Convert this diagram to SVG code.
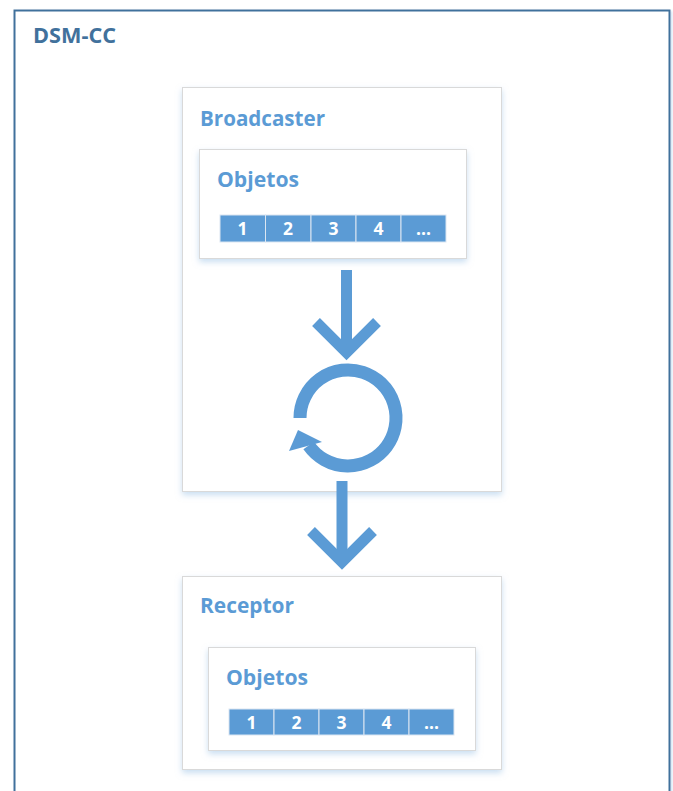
<svg xmlns="http://www.w3.org/2000/svg" width="673" height="791" viewBox="0 0 673 791">
  <defs>
    <filter id="shadow" x="-10%" y="-10%" width="120%" height="130%">
      <feDropShadow dx="0" dy="3" stdDeviation="3" flood-color="#9dc3e6" flood-opacity="0.55"/>
    </filter>
    <filter id="shadowOuter" x="-5%" y="-5%" width="110%" height="110%">
      <feDropShadow dx="1.5" dy="1.5" stdDeviation="1" flood-color="#bdd7ee" flood-opacity="0.8"/>
    </filter>
  </defs>
  <style>
    .box { fill: #ffffff; stroke: #d9d9d9; stroke-width: 1; filter: url(#shadow); }
    .label { font-family: "Open Sans", "Liberation Sans", sans-serif; font-weight: bold; fill: #5b9bd5; }
    .cell { fill: #5b9bd5; stroke: #dbe6f2; stroke-width: 1; }
    .num { font-family: "Open Sans", "Liberation Sans", sans-serif; font-weight: bold; font-size: 17.5px; fill: #ffffff; text-anchor: middle; }
    .arrow { fill: none; stroke: #5b9bd5; stroke-width: 11; stroke-linejoin: miter; stroke-miterlimit: 10; }
  </style>
  <rect width="673" height="791" fill="#ffffff"/>

  <g id="dsm-cc">
    <rect x="14.5" y="10.5" width="655" height="800" fill="#ffffff" stroke="#41719c" stroke-width="2" filter="url(#shadowOuter)"/>
    <text x="33" y="43" font-family="'Open Sans', 'Liberation Sans', sans-serif" font-weight="bold" font-size="21" fill="#41719c" textLength="83" lengthAdjust="spacingAndGlyphs">DSM-CC</text>
  </g>

  <g id="broadcaster">
    <rect class="box" x="182.5" y="87.5" width="319" height="404"/>
    <text class="label" x="200" y="126" font-size="20.5" textLength="125" lengthAdjust="spacingAndGlyphs">Broadcaster</text>
  </g>

  <g id="objetos-broadcaster">
    <rect class="box" x="199.5" y="149.5" width="267" height="109"/>
    <text class="label" x="217" y="187" font-size="20.5" textLength="82" lengthAdjust="spacingAndGlyphs">Objetos</text>
    <rect class="cell" x="220" y="215" width="45.5" height="27"/>
    <rect class="cell" x="265.5" y="215" width="45.5" height="27"/>
    <rect class="cell" x="311" y="215" width="45" height="27"/>
    <rect class="cell" x="356" y="215" width="45" height="27"/>
    <rect class="cell" x="401" y="215" width="45" height="27"/>
    <text class="num" x="242.5" y="235">1</text>
    <text class="num" x="288" y="235">2</text>
    <text class="num" x="333.5" y="235">3</text>
    <text class="num" x="378.5" y="235">4</text>
    <text class="num" x="423.5" y="235">...</text>
  </g>

  <g id="receptor">
    <rect class="box" x="182.5" y="576.5" width="319" height="193"/>
    <text class="label" x="200" y="613" font-size="20.5" textLength="94" lengthAdjust="spacingAndGlyphs">Receptor</text>
  </g>

  <g id="objetos-receptor">
    <rect class="box" x="208.5" y="647.5" width="267" height="103"/>
    <text class="label" x="226" y="685" font-size="20.5" textLength="82" lengthAdjust="spacingAndGlyphs">Objetos</text>
    <rect class="cell" x="229" y="709" width="45" height="26"/>
    <rect class="cell" x="274" y="709" width="45" height="26"/>
    <rect class="cell" x="319" y="709" width="45" height="26"/>
    <rect class="cell" x="364" y="709" width="45" height="26"/>
    <rect class="cell" x="409" y="709" width="45" height="26"/>
    <text class="num" x="251.5" y="729">1</text>
    <text class="num" x="296.5" y="729">2</text>
    <text class="num" x="341.5" y="729">3</text>
    <text class="num" x="386.5" y="729">4</text>
    <text class="num" x="431.5" y="729">...</text>
  </g>

  <g id="connectors">
    <path class="arrow" d="M346.5 270 V352"/>
    <polyline class="arrow" points="316,322 346.5,352.5 377,322"/>
    <path d="M300 418 A48 48 0 1 1 308.7 445.5" fill="none" stroke="#5b9bd5" stroke-width="13"/>
    <polygon points="298,430 289,451 322,442" fill="#5b9bd5"/>
    <path class="arrow" d="M342 481 V562"/>
    <polyline class="arrow" points="311,531 342,562 373,531"/>
  </g>
</svg>
